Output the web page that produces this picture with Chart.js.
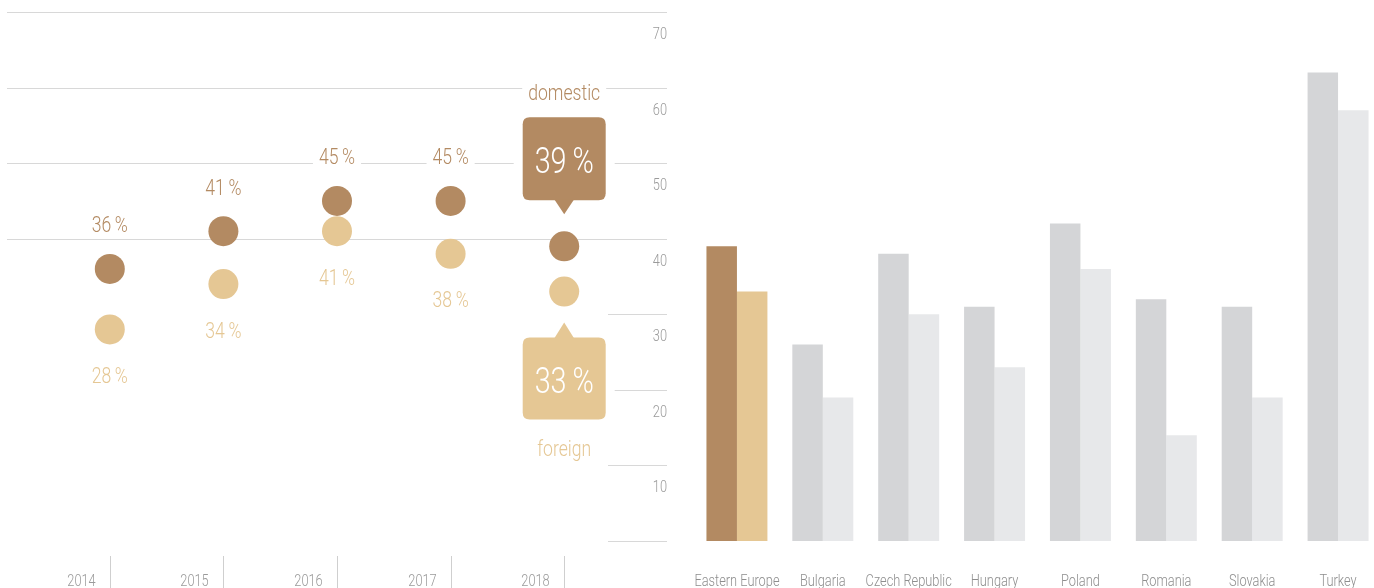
<!DOCTYPE html>
<html>
<head>
<meta charset="utf-8">
<script src="https://cdn.jsdelivr.net/npm/chart.js@4.4.1/dist/chart.umd.min.js"></script>
<style>
  html, body { margin: 0; padding: 0; background: #fff; overflow: hidden; }
  body { width: 1374px; height: 588px; position: relative; }
  #left { position: absolute; left: 0; top: 0; width: 690px; height: 588px; }
  #right { position: absolute; left: 680px; top: 0; width: 701px; height: 588px; }
</style>
</head>
<body>
<div id="left"><canvas id="dots"></canvas></div>
<div id="right"><canvas id="bars"></canvas></div>
<script>
const years = ["2014", "2015", "2016", "2017", "2018"];
const domestic = [36, 41, 45, 45, 39];
const foreign = [28, 34, 41, 38, 33];

const countries = ["Eastern Europe", "Bulgaria", "Czech Republic", "Hungary", "Poland", "Romania", "Slovakia", "Turkey"];
const countryDomestic = [39, 26, 38, 31, 42, 32, 31, 62];
const countryForeign = [33, 19, 30, 23, 36, 14, 19, 57];

const gridValues = [0, 10, 20, 30, 40, 50, 60, 70];
const tickLabels = [10, 20, 30, 40, 50, 60, 70];

const FONT = "Roboto, 'Noto Sans', sans-serif";
const NARROW = 0.8; // fake a condensed face by squeezing the text
const DARK = "#b38a62";
const LIGHT = "#e5c794";
const GRAY_DARK = "#d4d5d7";
const GRAY_LIGHT = "#e7e8ea";
const GRID = "#d8d8d8";
const TICK_TEXT = "#9a9a9a";

function pct(v) {
  return v + "\u2009%";
}

function setFont(ctx, size) {
  ctx.font = "300 " + size + "px " + FONT;
}

function textWidth(ctx, text, size) {
  setFont(ctx, size);
  return ctx.measureText(text).width * NARROW;
}

function narrowText(ctx, text, x, y, size, color, align) {
  ctx.save();
  setFont(ctx, size);
  ctx.fillStyle = color;
  ctx.textAlign = align || "center";
  ctx.textBaseline = "middle";
  ctx.translate(x, y + 2);
  ctx.scale(NARROW, 1);
  ctx.fillText(text, 0, 0);
  ctx.restore();
}

// text with a white patch behind it, so the grid lines break around it
function maskedText(ctx, text, x, y, color, size) {
  const w = textWidth(ctx, text, size);
  ctx.fillStyle = "#fff";
  ctx.fillRect(x - w / 2 - 6, y - size * 0.6, w + 12, size * 1.2);
  narrowText(ctx, text, x, y, size, color);
}

function roundRect(ctx, x, y, w, h, r) {
  ctx.beginPath();
  ctx.moveTo(x + r, y);
  ctx.lineTo(x + w - r, y);
  ctx.quadraticCurveTo(x + w, y, x + w, y + r);
  ctx.lineTo(x + w, y + h - r);
  ctx.quadraticCurveTo(x + w, y + h, x + w - r, y + h);
  ctx.lineTo(x + r, y + h);
  ctx.quadraticCurveTo(x, y + h, x, y + h - r);
  ctx.lineTo(x, y + r);
  ctx.quadraticCurveTo(x, y, x + r, y);
  ctx.closePath();
}

function callout(ctx, cx, top, bottom, tipY, color, text) {
  const w = 83;
  ctx.fillStyle = "#fff";
  ctx.fillRect(cx - w / 2 - 9, top - 9, w + 18, bottom - top + 18);
  ctx.fillStyle = color;
  roundRect(ctx, cx - w / 2, top, w, bottom - top, 7);
  ctx.fill();
  ctx.beginPath();
  if (tipY > bottom) {
    ctx.moveTo(cx - 10, bottom - 1);
    ctx.lineTo(cx, tipY);
    ctx.lineTo(cx + 10, bottom - 1);
  } else {
    ctx.moveTo(cx - 10, top + 1);
    ctx.lineTo(cx, tipY);
    ctx.lineTo(cx + 10, top + 1);
  }
  ctx.closePath();
  ctx.fill();
  narrowText(ctx, text, cx, (top + bottom) / 2 + 3, 36, "#fff");
}

const dotDecor = {
  id: "dotDecor",
  beforeDatasetsDraw(chart) {
    const { ctx } = chart;
    const x = chart.scales.x;
    const y = chart.scales.y;
    ctx.save();
    ctx.strokeStyle = GRID;
    ctx.lineWidth = 1;
    gridValues.forEach((v) => {
      const py = Math.round(y.getPixelForValue(v)) + 0.5;
      ctx.beginPath();
      ctx.moveTo(v >= 40 ? 7 : 608, py);
      ctx.lineTo(667, py);
      ctx.stroke();
    });
    tickLabels.forEach((v) => {
      narrowText(ctx, String(v), 667, y.getPixelForValue(v) + 21, 16, TICK_TEXT, "right");
    });
    years.forEach((yr, i) => {
      const px = Math.round(x.getPixelForValue(i)) + 0.5;
      ctx.strokeStyle = "#cfcfcf";
      ctx.beginPath();
      ctx.moveTo(px, 556);
      ctx.lineTo(px, 588);
      ctx.stroke();
      narrowText(ctx, yr, px - 29, 580, 16, TICK_TEXT);
    });
    ctx.restore();
  },
  afterDatasetsDraw(chart) {
    const { ctx } = chart;
    const x = chart.scales.x;
    const y = chart.scales.y;
    const last = years.length - 1;
    ctx.save();
    years.forEach((yr, i) => {
      if (i === last) return;
      const px = x.getPixelForValue(i);
      maskedText(ctx, pct(domestic[i]), px, y.getPixelForValue(domestic[i]) - 44, DARK, 22);
      maskedText(ctx, pct(foreign[i]), px, y.getPixelForValue(foreign[i]) + 46, LIGHT, 22);
    });
    const px = x.getPixelForValue(last);
    const dy = y.getPixelForValue(domestic[last]);
    const fy = y.getPixelForValue(foreign[last]);
    callout(ctx, px, dy - 129, dy - 46, dy - 32, DARK, pct(domestic[last]));
    maskedText(ctx, "domestic", px, dy - 154, DARK, 22);
    callout(ctx, px, fy + 46, fy + 128, fy + 31, LIGHT, pct(foreign[last]));
    maskedText(ctx, "foreign", px, fy + 157, LIGHT, 22);
    ctx.restore();
  },
};

new Chart("dots", {
  type: "line",
  plugins: [dotDecor],
  data: {
    labels: years,
    datasets: [
      {
        label: "domestic",
        data: domestic,
        showLine: false,
        pointRadius: 15,
        pointBackgroundColor: DARK,
        pointBorderWidth: 0,
      },
      {
        label: "foreign",
        data: foreign,
        showLine: false,
        pointRadius: 15,
        pointBackgroundColor: LIGHT,
        pointBorderWidth: 0,
      },
    ],
  },
  options: {
    responsive: true,
    maintainAspectRatio: false,
    animation: false,
    events: [],
    layout: { autoPadding: false, padding: { left: 53, right: 69, top: 12, bottom: 47 } },
    scales: {
      x: { type: "category", offset: true, display: false },
      y: { min: 0, max: 70, display: false },
    },
    plugins: { legend: { display: false }, tooltip: { enabled: false } },
  },
});

const barLabels = {
  id: "barLabels",
  afterDraw(chart) {
    const { ctx } = chart;
    const x = chart.scales.x;
    countries.forEach((c, i) => {
      narrowText(ctx, c, x.getPixelForValue(i), 580, 16, "#8e8e8e");
    });
  },
};

new Chart("bars", {
  type: "bar",
  plugins: [barLabels],
  data: {
    labels: countries,
    datasets: [
      {
        label: "domestic",
        data: countryDomestic,
        backgroundColor: countries.map((c, i) => (i === 0 ? DARK : GRAY_DARK)),
        borderWidth: 0,
        categoryPercentage: 0.71,
        barPercentage: 1.0,
      },
      {
        label: "foreign",
        data: countryForeign,
        backgroundColor: countries.map((c, i) => (i === 0 ? LIGHT : GRAY_LIGHT)),
        borderWidth: 0,
        categoryPercentage: 0.71,
        barPercentage: 1.0,
      },
    ],
  },
  options: {
    responsive: true,
    maintainAspectRatio: false,
    animation: false,
    events: [],
    layout: { autoPadding: false, padding: { left: 14, right: 0, top: 12, bottom: 47 } },
    scales: {
      x: { type: "category", offset: true, display: false },
      y: { min: 0, max: 70, display: false },
    },
    plugins: { legend: { display: false }, tooltip: { enabled: false } },
  },
});
</script>
</body>
</html>
